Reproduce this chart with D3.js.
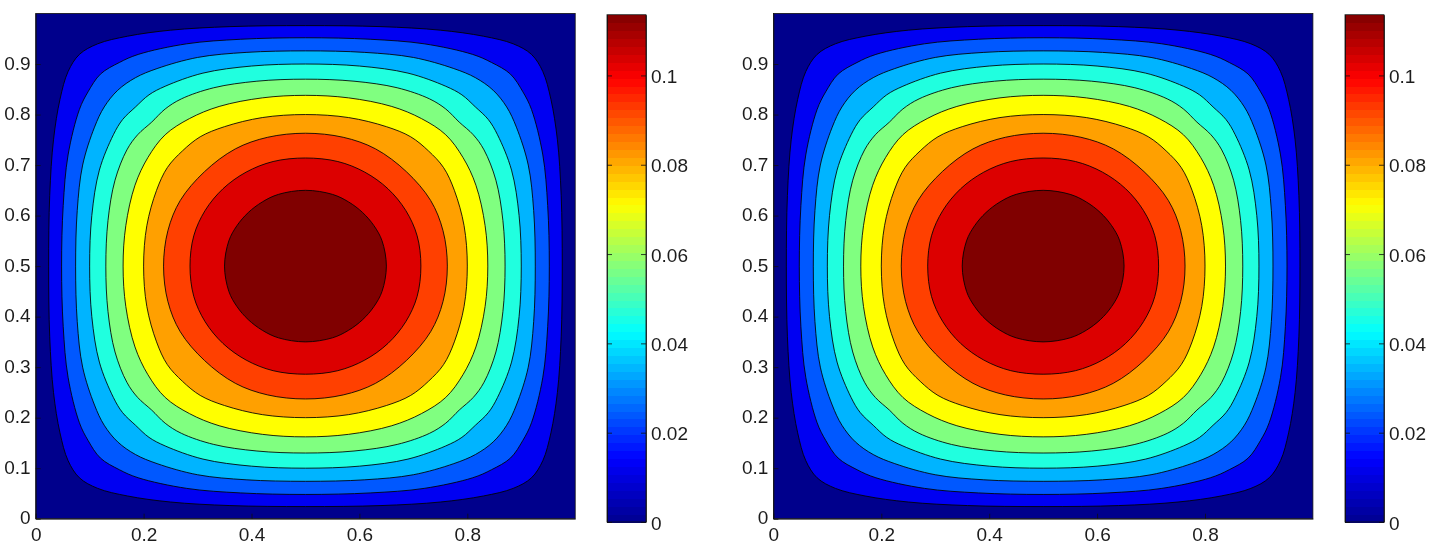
<!DOCTYPE html>
<html>
<head>
<meta charset="utf-8">
<script src="https://cdn.jsdelivr.net/npm/d3@7"></script>
<style>
body { margin: 0; background: #fff; }
svg { display: block; filter: blur(0.4px); }
.axis text { font-family: "Liberation Sans", Arial, sans-serif; font-size: 19px; fill: #1c1c1c; }
.axis path, .axis line { stroke: #101010; stroke-width: 0.8; }
</style>
</head>
<body>
<div id="chart"></div>
<script>
// contour outlines, one octant of the square each:
// [distance from left, distance from top], from the top middle to the diagonal
var contour1 = [[.5,.024],[.36,.026],[.25,.033],[.17,.045],[.115,.06],[.081,.081]];
var contour2 = [[.5,.048],[.38,.051],[.28,.06],[.19,.081],[.155,.097],[.12,.12]];
var contour3 = [[.5,.074],[.39,.077],[.3,.087],[.225,.109],[.185,.127],[.152,.152]];
var contour4 = [[.5,.1],[.4,.104],[.31,.118],[.24,.144],[.21,.161],[.185,.185]];
var contour5 = [[.5,.13],[.41,.134],[.33,.147],[.27,.169],[.24,.189],[.215,.215]];
var contour6 = [[.5,.162],[.42,.167],[.34,.184],[.285,.208],[.24,.24]];
var contour7 = [[.5,.2],[.42,.206],[.35,.224],[.305,.244],[.272,.272]];
var contour8 = [[.5,.237],[.43,.245],[.37,.268],[.313,.313]];
var contour9 = [[.5,.286],[.44,.293],[.39,.314],[.347,.347]];
var contour10 = [[.5,.35],[.45,.358],[.42,.373],[.394,.394]];
var contours = [contour1, contour2, contour3, contour4, contour5, contour6, contour7, contour8, contour9, contour10];

var bandColors = ["#00008c", "#0000f2", "#0058ff", "#00b4ff", "#20ffdf", "#80ff80", "#ffff00", "#ffa000", "#ff4000", "#dc0000", "#800000"];

var xTicks = [0, 0.2, 0.4, 0.6, 0.8];
var yTicks = [0, 0.1, 0.2, 0.3, 0.4, 0.5, 0.6, 0.7, 0.8, 0.9];
var barTicks = [0, 0.02, 0.04, 0.06, 0.08, 0.1];
var barMax = 0.1136;
var barSteps = 64;

var jetStops = [0, 0.125, 0.375, 0.625, 0.875, 1];
var jetColors = ["#00008f", "#0000ff", "#00ffff", "#ffff00", "#ff0000", "#800000"];

var svg = d3.select("#chart")
    .append("svg")
    .attr("width", 1439)
    .attr("height", 544);

var jet = d3.scaleLinear().domain(jetStops).range(jetColors);

// the whole ring from one octant, the picture is symmetric
function ring(oct) {
    var quad = oct.concat(oct.slice(0, -1).reverse().map(function(p) { return [p[1], p[0]]; }));
    var rev = quad.slice().reverse();
    return quad.map(function(p) { return [p[0], 1 - p[1]]; })
        .concat(rev.slice(1).map(function(p) { return [p[0], p[1]]; }))
        .concat(quad.slice(1).map(function(p) { return [1 - p[0], p[1]]; }))
        .concat(rev.slice(1, -1).map(function(p) { return [1 - p[0], 1 - p[1]]; }));
}

function draw_panel(left, barLeft) {
    var x = d3.scaleLinear().domain([0, 1]).range([left, left + 539.5]);
    var y = d3.scaleLinear().domain([0, 1]).range([518.7, 13.5]);

    var outline = d3.line()
        .x(function(d) { return x(d[0]); })
        .y(function(d) { return y(d[1]); })
        .curve(d3.curveCatmullRomClosed.alpha(0.5));

    svg.append("rect")
        .attr("x", x(0))
        .attr("y", y(1))
        .attr("width", x(1) - x(0))
        .attr("height", y(0) - y(1))
        .attr("fill", bandColors[0]);

    contours.forEach(function(c, i) {
        svg.append("path")
            .datum(ring(c))
            .attr("d", outline)
            .attr("fill", bandColors[i + 1])
            .attr("stroke", "#000")
            .attr("stroke-opacity", 0.85)
            .attr("stroke-width", 1);
    });

    var xAxis = d3.axisBottom(x).tickValues(xTicks).tickFormat(d3.format("~g")).tickSizeInner(-5).tickSizeOuter(0).tickPadding(9);
    var yAxis = d3.axisLeft(y).tickValues(yTicks).tickFormat(d3.format("~g")).tickSizeInner(-5).tickSizeOuter(0).tickPadding(5);

    svg.append("g")
        .attr("class", "axis")
        .attr("transform", "translate(0," + y(0) + ")")
        .call(xAxis);
    svg.append("g")
        .attr("class", "axis")
        .attr("transform", "translate(" + x(0) + ",0)")
        .call(yAxis)
        .selectAll("text").attr("y", -1);
    svg.append("rect")
        .attr("x", x(0))
        .attr("y", y(1))
        .attr("width", x(1) - x(0))
        .attr("height", y(0) - y(1))
        .attr("fill", "none")
        .attr("stroke", "#101010")
        .attr("stroke-width", 0.8);

    // colorbar
    var barWidth = 39;
    var yBar = d3.scaleLinear().domain([0, barMax]).range([522, 14.7]);
    var steps = d3.range(barSteps);
    svg.append("g").selectAll("rect")
        .data(steps)
        .join("rect")
        .attr("x", barLeft)
        .attr("width", barWidth)
        .attr("y", function(i) { return yBar((i + 1) / barSteps * barMax); })
        .attr("height", function(i) { return yBar(i / barSteps * barMax) - yBar((i + 1) / barSteps * barMax) + 0.5; })
        .attr("shape-rendering", "crispEdges")
        .attr("fill", function(i) { return jet((i + 0.5) / barSteps); });

    var barAxis = d3.axisRight(yBar).tickValues(barTicks).tickFormat(d3.format("~g")).tickSizeInner(-5).tickSizeOuter(0).tickPadding(5);
    var barLeftAxis = d3.axisLeft(yBar).tickValues(barTicks).tickFormat("").tickSizeInner(-5).tickSizeOuter(0);
    svg.append("g")
        .attr("class", "axis")
        .attr("transform", "translate(" + (barLeft + barWidth) + ",0)")
        .call(barAxis)
        .selectAll("text").attr("y", 1);
    svg.append("g")
        .attr("class", "axis")
        .attr("transform", "translate(" + barLeft + ",0)")
        .call(barLeftAxis);
    svg.append("rect")
        .attr("x", barLeft)
        .attr("y", yBar(barMax))
        .attr("width", barWidth)
        .attr("height", yBar(0) - yBar(barMax))
        .attr("fill", "none")
        .attr("stroke", "#101010")
        .attr("stroke-width", 0.8);
}

draw_panel(35.7, 607);
draw_panel(773.4, 1345);
</script>
</body>
</html>
